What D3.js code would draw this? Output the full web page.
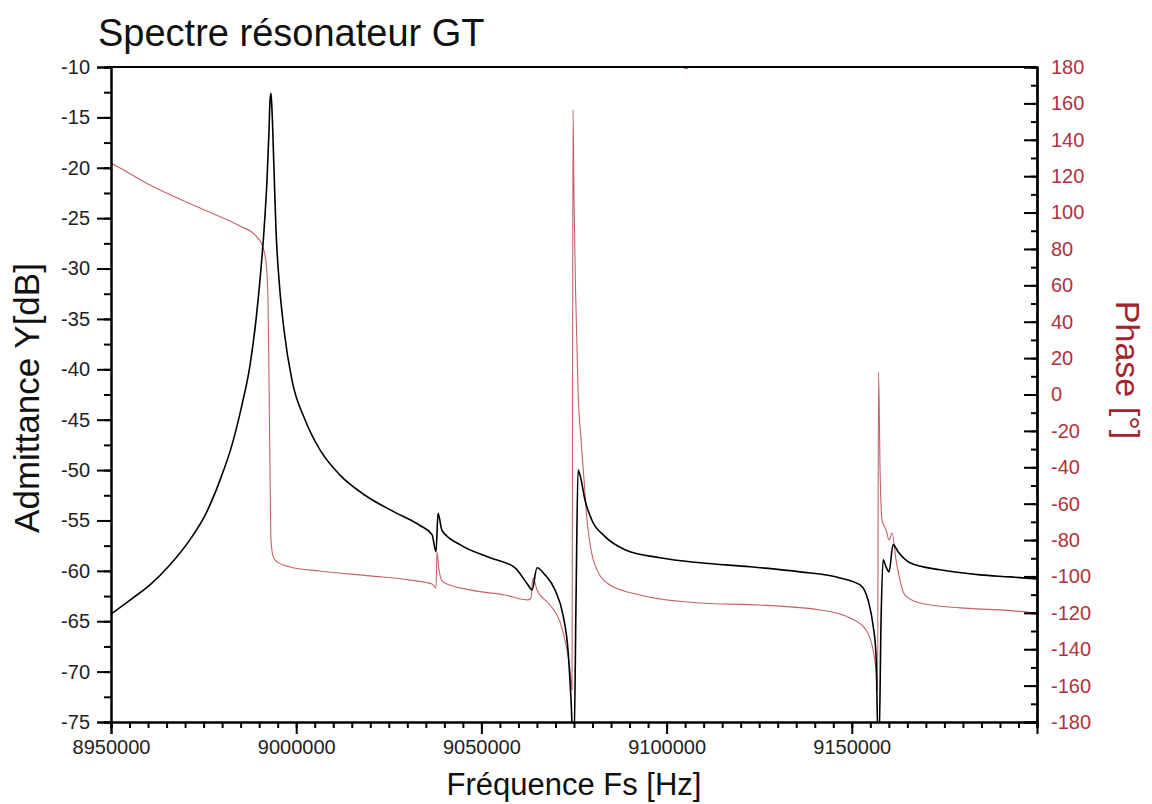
<!DOCTYPE html>
<html><head><meta charset="utf-8">
<script src="https://cdn.jsdelivr.net/npm/d3@7"></script>
<style>
body{margin:0;background:#fff;}
svg{display:block;font-family:"Liberation Sans",Arial,sans-serif;}
</style></head>
<body>
<svg id="c" width="1152" height="804"></svg>
<script>
// ---- data ----
const title = "Spectre résonateur GT";
const xLabel = "Fréquence Fs [Hz]";
const yLabel = "Admittance Y[dB]";
const y2Label = "Phase [°]";

const xTicks = [8950000, 9000000, 9050000, 9100000, 9150000];
const yTicks = [-10,-15,-20,-25,-30,-35,-40,-45,-50,-55,-60,-65,-70,-75];
const y2Ticks = [180,160,140,120,100,80,60,40,20,0,-20,-40,-60,-80,-100,-120,-140,-160,-180];

// admittance magnitude [dB]
const magFreq = [8950000,8955130,8960530,8965930,8971330,8975380,8979430,8982670,8985370,8987530,
  8989150,8990230,8991310,8992120,8992660,8992930,8993200,8993470,8994010,8994550,
  8995360,8996710,8998870,9002380,9006430,9011830,9018580,9026680,9033430,9036670,
  9037750,9038290,9039370,9044230,9052330,9059080,9062590,9063670,9065020,9067180,
  9069880,9072040,9073390,9074200,9074740,9075010,9075550,9076090,9076630,9077980,
  9079870,9083380,9088780,9098230,9109030,9122530,9136030,9146830,9152230,9154390,
  9155740,9156550,9157090,9157360,9157900,9158440,9159250,9160060,9161140,9162490,
  9165730,9173830,9184630,9192730,9200000];
const magDb = [-64.3,-62.9,-61.4,-59.4,-56.9,-54.5,-51.0,-47.5,-43.5,-39.6,
  -35.1,-31.1,-26.2,-21.2,-16.3,-13.3,-12.6,-14.3,-20.2,-26.2,
  -31.1,-36.1,-41.1,-45.0,-48.0,-50.5,-52.5,-54.2,-55.5,-56.4,
  -58.1,-54.3,-56.0,-57.4,-58.7,-59.7,-61.4,-61.9,-59.7,-60.4,
  -61.9,-64.4,-67.9,-72.8,-77,-77,-62.9,-50.0,-50.5,-53.0,
  -55.0,-56.6,-57.9,-58.7,-59.2,-59.6,-60.1,-60.7,-61.4,-62.9,
  -65.4,-68.4,-77,-77,-64.9,-58.9,-59.6,-60.1,-57.4,-58.1,
  -59.2,-59.9,-60.4,-60.6,-60.8];

// phase [deg]
const phFreq = [8950000,8952430,8960530,8974030,8984830,8988880,8990770,8991850,8992390,8992660,
  8992930,8993200,8993740,8994820,8998330,9006430,9019930,9030730,9036670,9037750,
  9038020,9038560,9039640,9046930,9056380,9062590,9063400,9063940,9065020,9068530,
  9071230,9072850,9073930,9074470,9074610,9074740,9075010,9075420,9076090,9076900,
  9077710,9078520,9079600,9081220,9084730,9092830,9109030,9125230,9141430,9149530,
  9153850,9155740,9156550,9156960,9157230,9157630,9158170,9159250,9160060,9160870,
  9161950,9164380,9168430,9179230,9190030,9200000];
const phDeg = [127.2,124.5,115.1,102.5,92.6,87.7,82.2,72.8,52.0,8.0,
  -41.5,-80.0,-88.8,-92.0,-94.8,-97.0,-99.7,-102.0,-104.1,-106.3,
  -86.6,-96.5,-103.0,-107.4,-110.2,-112.9,-111.8,-100.8,-107.4,-115.7,
  -125.0,-137.7,-151.4,-162.4,-3.0,156.4,106.9,57.4,2.5,-25.0,
  -47.0,-69.0,-85.5,-96.4,-104.7,-110.2,-114.6,-115.7,-118.4,-122.8,
  -129.4,-140.4,-151.4,-162.4,12.4,-41.5,-69.0,-74.5,-80.0,-76.1,
  -91.0,-110.2,-114.6,-117.3,-118.4,-120.1];

// short phase-wrap glitch seen on the top border
const wrapFreq = [9104600, 9105800];
const wrapDeg = [179.6, 179.6];

// ---- layout ----
const svg = d3.select("#c");
const L = 111, R = 1037, T = 67, B = 722;
const x = d3.scaleLinear().domain([8950000, 9200000]).range([L, R]);
const y = d3.scaleLinear().domain([-75, -10]).range([B, T]);
const y2 = d3.scaleLinear().domain([-180, 180]).range([B, T]);
const red = "#b0323c";
const fmt = d => String(d);

svg.append("defs").append("clipPath").attr("id","clip")
  .append("rect").attr("x",L).attr("y",T-2).attr("width",R-L).attr("height",B-T+2);

const g = svg.append("g").attr("clip-path","url(#clip)");

const phData = phFreq.map((f,i)=>[f,phDeg[i]]);
const magData = magFreq.map((f,i)=>[f,magDb[i]]);
const wrapData = wrapFreq.map((f,i)=>[f,wrapDeg[i]]);

const lineP = d3.line().curve(d3.curveMonotoneX).x(d=>x(d[0])).y(d=>y2(d[1]));
g.append("path").datum(phData)
  .attr("fill","none").attr("stroke","#b8484f").attr("stroke-opacity",0.85).attr("stroke-width",1.1)
  .attr("d", lineP);
g.append("path").datum(wrapData)
  .attr("fill","none").attr("stroke","#c0303a").attr("stroke-width",2)
  .attr("d", lineP);

g.append("path").datum(magData)
  .attr("fill","none").attr("stroke","#000").attr("stroke-width",1.6)
  .attr("d", d3.line().curve(d3.curveMonotoneX).x(d=>x(d[0])).y(d=>y(d[1])));

// ---- axes ----
const tickFont = "20px";
const ff = "Liberation Sans, Arial, sans-serif";
// left axis
const yMinor = d3.range(-75, -9.9, 2.5);
const gl = svg.append("g").attr("transform",`translate(${L},0)`);
gl.call(d3.axisLeft(y).tickValues(yMinor).tickSize(7).tickFormat(""));
gl.append("g").call(d3.axisLeft(y).tickValues(yTicks).tickSize(14).tickPadding(7).tickFormat(fmt));
gl.selectAll(".domain").attr("stroke","#000").attr("stroke-width",2);
gl.selectAll("line").attr("stroke","#000").attr("stroke-width",2);
gl.selectAll("text").attr("font-size",tickFont).attr("fill","#222").attr("font-family",ff);

// bottom axis
const xMinor = d3.range(8950000, 9200001, 5000);
const gb = svg.append("g").attr("transform",`translate(0,${B})`);
gb.call(d3.axisBottom(x).tickValues(xMinor).tickSize(6).tickFormat(""));
gb.append("g").call(d3.axisBottom(x).tickValues(xTicks).tickSize(12).tickPadding(6).tickFormat(fmt));
gb.selectAll(".domain").attr("stroke","#000").attr("stroke-width",2);
gb.selectAll("line").attr("stroke","#000").attr("stroke-width",2);
gb.selectAll("text").attr("font-size",tickFont).attr("fill","#222").attr("font-family",ff);

// right axis (ticks inside)
const y2Minor = d3.range(-180, 180.1, 10);
const gr = svg.append("g").attr("transform",`translate(${R},0)`);
gr.call(d3.axisLeft(y2).tickValues(y2Minor).tickSize(6).tickFormat(""));
gr.append("g").call(d3.axisLeft(y2).tickValues(y2Ticks).tickSize(13).tickFormat(""));
gr.append("g").call(d3.axisRight(y2).tickValues(y2Ticks).tickSize(0).tickPadding(14).tickFormat(fmt));
gr.selectAll(".domain").attr("stroke","#000").attr("stroke-width",2);
gr.selectAll("line").attr("stroke","#000").attr("stroke-width",2);
gr.selectAll("text").attr("font-size",tickFont).attr("fill",red).attr("font-family",ff);

// top border
svg.append("line").attr("x1",L).attr("x2",R).attr("y1",T).attr("y2",T).attr("stroke","#000").attr("stroke-width",2);

// ---- titles ----
svg.append("text").attr("x",98).attr("y",46).attr("font-size","38px").attr("fill","#111").text(title);
svg.append("text").attr("x",(L+R)/2).attr("y",795).attr("text-anchor","middle")
  .attr("font-size","31px").attr("fill","#111").text(xLabel);
svg.append("text").attr("transform","translate(39,398) rotate(-90)").attr("text-anchor","middle")
  .attr("font-size","35px").attr("fill","#111").text(yLabel);
svg.append("text").attr("transform","translate(1116,370) rotate(90)").attr("text-anchor","middle")
  .attr("font-size","34px").attr("fill","#a3232e").text(y2Label);
</script>
</body></html>
